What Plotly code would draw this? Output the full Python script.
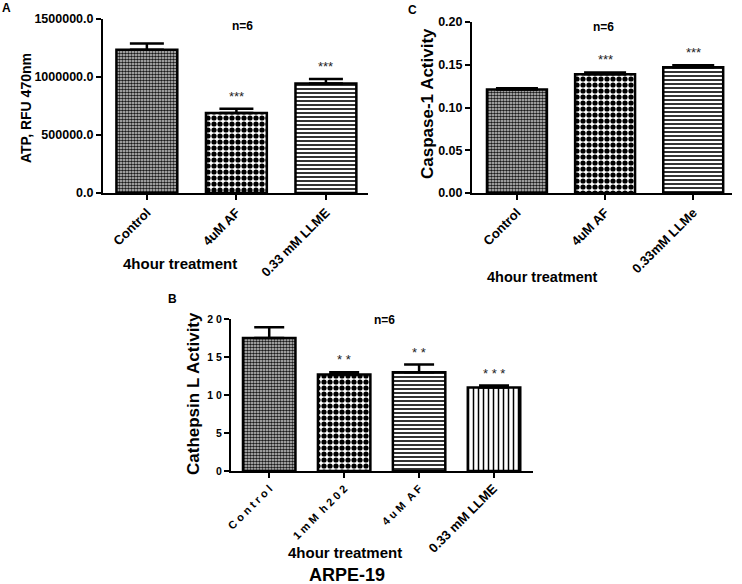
import plotly.graph_objects as go

W, H = 742, 584
FONT = "Liberation Sans, Arial, sans-serif"

# ---------------- data ----------------
cats_a = ["Control", "4uM AF", "0.33 mM LLME"]
atp = [1235000, 690000, 945000]
atp_err = [53000, 37000, 37000]
stars_a = ["", "***", "***"]
yticks_a = [0, 500000, 1000000, 1500000]

cats_c = ["Control", "4uM AF", "0.33mM LLMe"]
casp = [0.121, 0.139, 0.147]
casp_err = [0.0015, 0.002, 0.0025]
stars_c = ["", "***", "***"]
yticks_c = [0.0, 0.05, 0.10, 0.15, 0.20]

cats_b = ["Control", "1mM h202", "4uM AF", "0.33 mM LLME"]
ticktext_b = ["C o n t r o l", "1 m M &nbsp;h 2 0 2", "4 u M &nbsp;A F",
              "<span style='font-size:13px'>0.33 mM LLME</span>"]
cath = [17.5, 12.7, 13.0, 11.0]
cath_err = [1.4, 0.3, 1.0, 0.25]
stars_b = ["", "* *", "* *", "* * *"]
yticks_b = [0, 5, 10, 15, 20]
yticktext_b = ["0", "5", "1 0", "1 5", "2 0"]

# ---------------- styles ----------------
pat_control = dict(shape=".", size=3, solidity=0.6, fgcolor="#1a1a1a", bgcolor="#d8d8d8", fillmode="replace")
pat_check = dict(shape=".", size=6, solidity=0.6, fgcolor="black", bgcolor="white", fillmode="replace")
pat_hline = dict(shape="-", size=4, solidity=0.4, fgcolor="black", bgcolor="white", fillmode="replace")
pat_vline = dict(shape="|", size=5, solidity=0.3, fgcolor="black", bgcolor="white", fillmode="replace")


def px_x(x):
    return x / W


def px_y(y):
    return 1 - y / H


fig = go.Figure()


def add_bars(cats, vals, errs, pats, xa, ya, bw, capw):
    for c, v, e, p in zip(cats, vals, errs, pats):
        fig.add_trace(go.Bar(
            x=[c], y=[v], width=bw, xaxis=xa, yaxis=ya,
            marker=dict(color="white", line=dict(color="black", width=2.5), pattern=p),
            error_y=dict(type="data", symmetric=False, array=[e], arrayminus=[0],
                         color="black", thickness=2.5, width=capw),
            showlegend=False, hoverinfo="skip"))


add_bars(cats_a, atp, atp_err, [pat_control, pat_check, pat_hline], "x", "y", 0.68, 17)
add_bars(cats_c, casp, casp_err, [pat_control, pat_check, pat_hline], "x2", "y2", 0.68, 21)
add_bars(cats_b, cath, cath_err, [pat_control, pat_check, pat_hline, pat_vline], "x3", "y3", 0.70, 15)

axis_common = dict(showline=True, linecolor="black", linewidth=2, showgrid=False, zeroline=False,
                   ticks="outside", ticklen=5, tickwidth=2, tickcolor="black", automargin=False)

fig.update_layout(
    width=W, height=H, margin=dict(l=0, r=0, t=0, b=0, autoexpand=False),
    paper_bgcolor="white", plot_bgcolor="white", barmode="overlay",
    font=dict(family=FONT, color="black"),
    xaxis=dict(axis_common, domain=[px_x(103), px_x(368)], range=[-0.49, 2.47], anchor="y",
               tickangle=-45, tickfont=dict(size=13, weight="bold", family=FONT)),
    yaxis=dict(axis_common, domain=[px_y(193), px_y(19)], range=[0, 1500000], anchor="x",
               tickvals=yticks_a, tickformat=".1f",
               tickfont=dict(size=12.5, weight="bold", family=FONT)),
    xaxis2=dict(axis_common, domain=[px_x(472), px_x(732)], range=[-0.51, 2.44], anchor="y2",
                tickangle=-45, tickfont=dict(size=13, weight="bold", family=FONT)),
    yaxis2=dict(axis_common, domain=[px_y(193), px_y(22)], range=[0, 0.2], anchor="x2",
                tickvals=yticks_c, tickformat=".2f",
                tickfont=dict(size=12.5, weight="bold", family=FONT)),
    xaxis3=dict(axis_common, domain=[px_x(231), px_x(533)], range=[-0.51, 3.52], anchor="y3",
                tickangle=-45, tickfont=dict(size=11, weight="bold", family=FONT),
                tickmode="array", tickvals=cats_b, ticktext=ticktext_b),
    yaxis3=dict(axis_common, domain=[px_y(471), px_y(319)], range=[0, 20], anchor="x3",
                tickvals=yticks_b, ticktext=yticktext_b,
                tickfont=dict(size=10.5, weight="bold", family=FONT)),
)

ann = []


def txt(x, y, s, size, bold=True, angle=0):
    ann.append(dict(x=px_x(x), y=px_y(y), xref="paper", yref="paper", text=s, showarrow=False,
                    textangle=angle, xanchor="center", yanchor="middle",
                    font=dict(size=size, family=FONT, color="black", weight="bold" if bold else "normal")))


# panel labels
txt(6, 8, "A", 12)
txt(412, 10, "C", 12)
txt(172, 299, "B", 12)
# n=6
txt(242, 26, "n=6", 12)
txt(603, 27, "n=6", 12)
txt(384, 320, "n=6", 12)
# axis titles
txt(26, 108, "ATP, RFU 470nm", 14, angle=-90)
txt(427, 104, "Caspase-1 Activity", 17, angle=-90)
txt(193, 394, "Cathepsin L Activity", 17, angle=-90)
txt(180, 263, "4hour treatment", 15)
txt(542, 277, "4hour treatment", 14.5)
txt(345, 552, "4hour treatment", 15)
txt(347, 575, "ARPE-19", 18)

# significance stars above error bars
for cats, vals, errs, stars, xr, yr in [(cats_a, atp, atp_err, stars_a, "x", "y"),
                                        (cats_c, casp, casp_err, stars_c, "x2", "y2"),
                                        (cats_b, cath, cath_err, stars_b, "x3", "y3")]:
    for c, v, e, s in zip(cats, vals, errs, stars):
        if s:
            ann.append(dict(x=c, y=v + e, xref=xr, yref=yr, text=s, showarrow=False,
                            yanchor="bottom", yshift=3,
                            font=dict(size=13, family=FONT, color="#222222")))

fig.update_layout(annotations=ann)
fig.write_html("out.html", config={"displayModeBar": False},
               post_script="document.body.style.margin='0px';document.body.style.overflow='hidden';")
